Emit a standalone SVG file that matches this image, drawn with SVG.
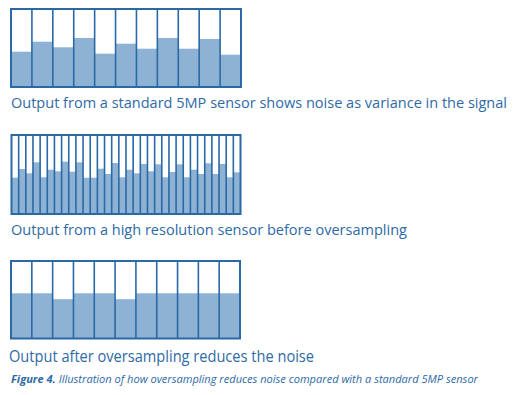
<svg xmlns="http://www.w3.org/2000/svg" width="522" height="395" viewBox="0 0 522 395">
<style>
.bg{fill:#ffffff}
.f{fill:#8db2d4}
.ln{fill:none;stroke:#2b69a6;stroke-width:2}
.dv{fill:none;stroke:#2b69a6;stroke-width:1.6}
.lbl{font-family:"Open Sans","Noto Sans","Liberation Sans",sans-serif;font-size:15px;fill:#2e6aa6}
.cap{font-family:"Open Sans","Noto Sans","Liberation Sans",sans-serif;font-size:11px;font-style:italic;fill:#2e6aa6}
</style>
<rect class="bg" x="0" y="0" width="522" height="395"/>
<g id="chart-standard">
<rect class="f" x="11" y="51.7" width="20.91" height="35.3"/>
<rect class="f" x="31.91" y="41.7" width="20.91" height="45.3"/>
<rect class="f" x="52.82" y="47.3" width="20.91" height="39.7"/>
<rect class="f" x="73.73" y="38" width="20.91" height="49"/>
<rect class="f" x="94.64" y="53.7" width="20.91" height="33.3"/>
<rect class="f" x="115.55" y="43.7" width="20.91" height="43.3"/>
<rect class="f" x="136.45" y="48.7" width="20.91" height="38.3"/>
<rect class="f" x="157.36" y="38" width="20.91" height="49"/>
<rect class="f" x="178.27" y="48.7" width="20.91" height="38.3"/>
<rect class="f" x="199.18" y="39" width="20.91" height="48"/>
<rect class="f" x="220.09" y="54.7" width="20.91" height="32.3"/>
<path class="dv" d="M31.91 9V87M52.82 9V87M73.73 9V87M94.64 9V87M115.55 9V87M136.45 9V87M157.36 9V87M178.27 9V87M199.18 9V87M220.09 9V87"/>
<rect class="ln" x="11" y="9" width="230" height="78"/>
</g>
<g id="label-standard">
<text class="lbl" x="11" y="108" textLength="496" lengthAdjust="spacingAndGlyphs" style="font-size:14px">Output from a standard 5MP sensor shows noise as variance in the signal</text>
</g>
<g id="chart-highres">
<rect class="f" x="11.5" y="177.7" width="7.16" height="36.3"/>
<rect class="f" x="18.66" y="169" width="7.16" height="45"/>
<rect class="f" x="25.81" y="173.3" width="7.16" height="40.7"/>
<rect class="f" x="32.97" y="162.3" width="7.16" height="51.7"/>
<rect class="f" x="40.13" y="177.3" width="7.16" height="36.7"/>
<rect class="f" x="47.28" y="169.7" width="7.16" height="44.3"/>
<rect class="f" x="54.44" y="171.3" width="7.16" height="42.7"/>
<rect class="f" x="61.59" y="161.7" width="7.16" height="52.3"/>
<rect class="f" x="68.75" y="171.7" width="7.16" height="42.3"/>
<rect class="f" x="75.91" y="162.3" width="7.16" height="51.7"/>
<rect class="f" x="83.06" y="177.7" width="7.16" height="36.3"/>
<rect class="f" x="90.22" y="177.7" width="7.16" height="36.3"/>
<rect class="f" x="97.38" y="168.7" width="7.16" height="45.3"/>
<rect class="f" x="104.53" y="174" width="7.16" height="40"/>
<rect class="f" x="111.69" y="163" width="7.16" height="51"/>
<rect class="f" x="118.84" y="177.3" width="7.16" height="36.7"/>
<rect class="f" x="126" y="169.7" width="7.16" height="44.3"/>
<rect class="f" x="133.16" y="173.3" width="7.16" height="40.7"/>
<rect class="f" x="140.31" y="164" width="7.16" height="50"/>
<rect class="f" x="147.47" y="171.3" width="7.16" height="42.7"/>
<rect class="f" x="154.63" y="164.3" width="7.16" height="49.7"/>
<rect class="f" x="161.78" y="177.3" width="7.16" height="36.7"/>
<rect class="f" x="168.94" y="172" width="7.16" height="42"/>
<rect class="f" x="176.09" y="164.3" width="7.16" height="49.7"/>
<rect class="f" x="183.25" y="177.3" width="7.16" height="36.7"/>
<rect class="f" x="190.41" y="169.7" width="7.16" height="44.3"/>
<rect class="f" x="197.56" y="174" width="7.16" height="40"/>
<rect class="f" x="204.72" y="163.3" width="7.16" height="50.7"/>
<rect class="f" x="211.88" y="174" width="7.16" height="40"/>
<rect class="f" x="219.03" y="164" width="7.16" height="50"/>
<rect class="f" x="226.19" y="177.3" width="7.16" height="36.7"/>
<rect class="f" x="233.34" y="172.3" width="7.16" height="41.7"/>
<path class="dv" d="M18.66 135V214M25.81 135V214M32.97 135V214M40.13 135V214M47.28 135V214M54.44 135V214M61.59 135V214M68.75 135V214M75.91 135V214M83.06 135V214M90.22 135V214M97.38 135V214M104.53 135V214M111.69 135V214M118.84 135V214M126 135V214M133.16 135V214M140.31 135V214M147.47 135V214M154.63 135V214M161.78 135V214M168.94 135V214M176.09 135V214M183.25 135V214M190.41 135V214M197.56 135V214M204.72 135V214M211.88 135V214M219.03 135V214M226.19 135V214M233.34 135V214"/>
<rect class="ln" x="11.5" y="135" width="229" height="79"/>
</g>
<g id="label-highres">
<text class="lbl" x="11" y="235" textLength="396" lengthAdjust="spacingAndGlyphs">Output from a high resolution sensor before oversampling</text>
</g>
<g id="chart-oversampled">
<rect class="f" x="11" y="293.3" width="20.82" height="45.2"/>
<rect class="f" x="31.82" y="293.3" width="20.82" height="45.2"/>
<rect class="f" x="52.64" y="299.2" width="20.82" height="39.3"/>
<rect class="f" x="73.45" y="293.3" width="20.82" height="45.2"/>
<rect class="f" x="94.27" y="293.3" width="20.82" height="45.2"/>
<rect class="f" x="115.09" y="299.2" width="20.82" height="39.3"/>
<rect class="f" x="135.91" y="293.3" width="20.82" height="45.2"/>
<rect class="f" x="156.73" y="293.3" width="20.82" height="45.2"/>
<rect class="f" x="177.55" y="293.3" width="20.82" height="45.2"/>
<rect class="f" x="198.36" y="293.3" width="20.82" height="45.2"/>
<rect class="f" x="219.18" y="293.3" width="20.82" height="45.2"/>
<path class="dv" d="M31.82 261V338.5M52.64 261V338.5M73.45 261V338.5M94.27 261V338.5M115.09 261V338.5M135.91 261V338.5M156.73 261V338.5M177.55 261V338.5M198.36 261V338.5M219.18 261V338.5"/>
<rect class="ln" x="11" y="261" width="229" height="77.5"/>
</g>
<g id="label-oversampled">
<text class="lbl" x="9" y="361.5" textLength="305" lengthAdjust="spacingAndGlyphs" style="font-size:16px">Output after oversampling reduces the noise</text>
</g>
<g id="caption">
<text class="cap" x="11" y="382.5" textLength="467" lengthAdjust="spacingAndGlyphs"><tspan font-weight="bold">Figure 4.</tspan> Illustration of how oversampling reduces noise compared with a standard 5MP sensor</text>
</g>
</svg>
